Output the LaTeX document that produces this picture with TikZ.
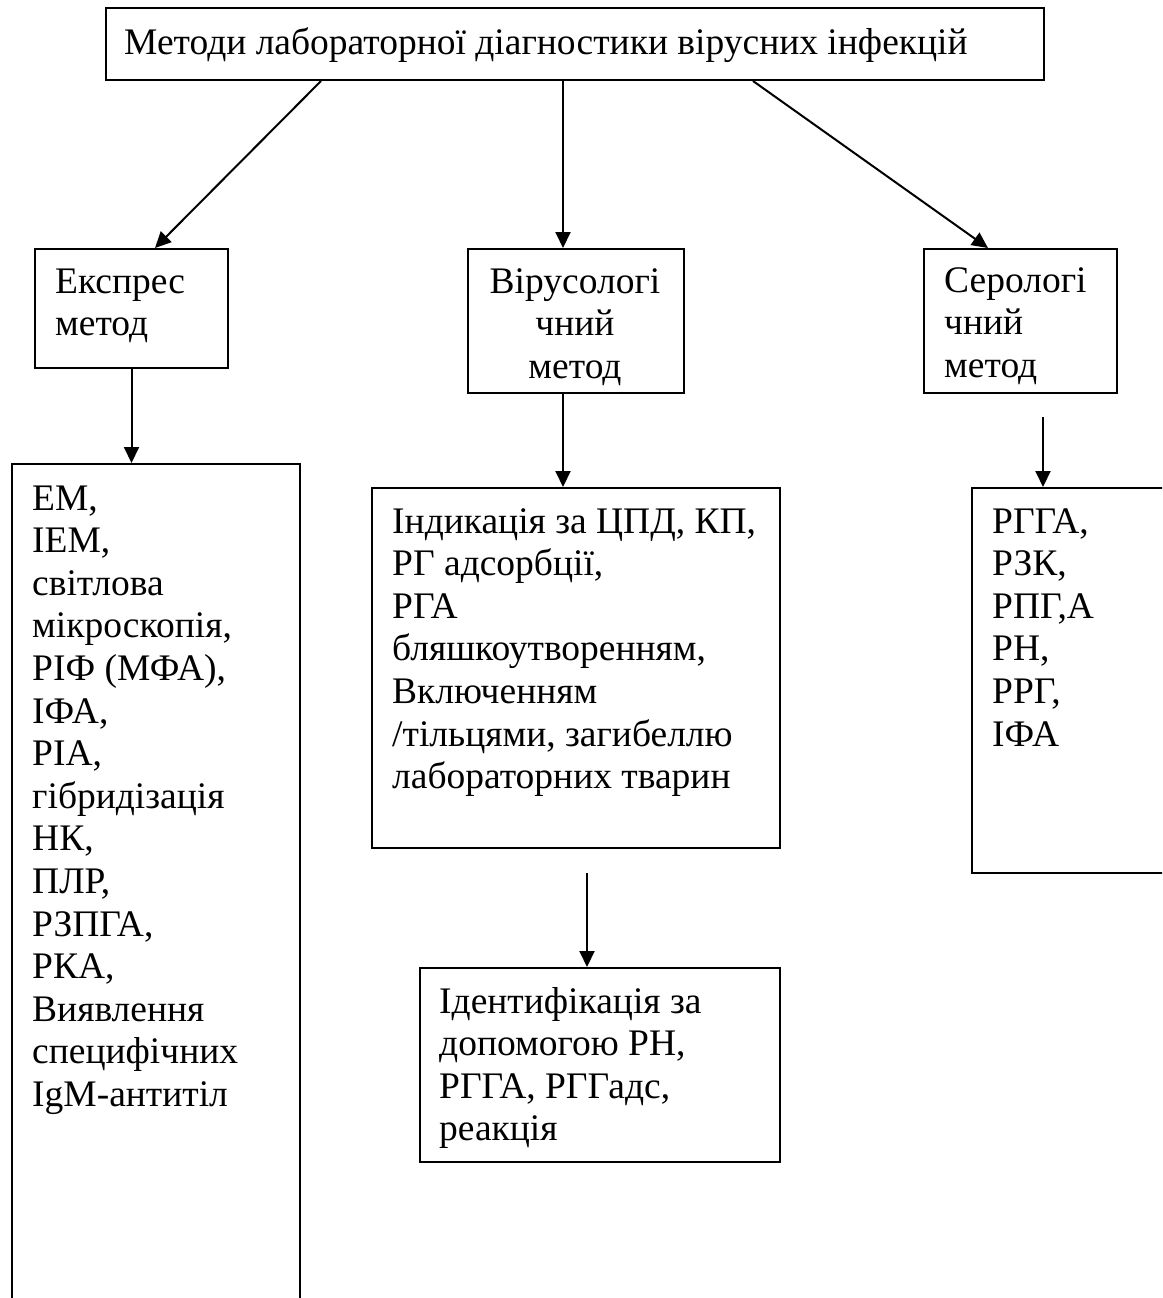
\documentclass[tikz,border=0pt]{standalone}
\usepackage{fontspec}
\setmainfont{Liberation Serif}
\usetikzlibrary{arrows.meta}
\tikzstyle{block} = [draw, rectangle, line width=2pt, inner sep=0pt, anchor=north west]
\tikzstyle{words} = [inner sep=0pt, align=left, anchor=base west, font=\fontsize{37.5}{42.6}\selectfont]
\tikzstyle{link} = [-{Triangle[length=16pt, width=15pt]}, line width=2pt]

\begin{document}
\begin{tikzpicture}[x=1pt, y=-1pt]
    \path [use as bounding box, fill=white] (0,0) rectangle (1162,1298);
    \clip (0,0) rectangle (1162,1298);

    % Boxes.
    \node (title) [block, minimum width=938pt, minimum height=72pt] at (105,7) {};
    \node (express) [block, minimum width=193pt, minimum height=119pt] at (34,248) {};
    \node (virology) [block, minimum width=216pt, minimum height=144pt] at (467,248) {};
    \node (serology) [block, minimum width=193pt, minimum height=144pt] at (923,248) {};
    \node (express list) [block, minimum width=288pt, minimum height=900pt] at (11,463) {};
    \node (virology list) [block, minimum width=408pt, minimum height=360pt] at (371,487) {};
    \node (virology id) [block, minimum width=360pt, minimum height=194pt] at (419,967) {};
    \node (serology list) [block, minimum width=260pt, minimum height=385pt] at (971,487) {};

    % Texts (anchored at the baseline of their last line).
    \node (title text) [words] at ([shift={(19,48)}]title.north west) {Методи лабораторної діагностики вірусних інфекцій};
    \node (express text) [words] at ([shift={(21,45+42.6)}]express.north west) {Експрес\\метод};
    \node (virology text) [words, align=center, anchor=base] at ([shift={(108,45+2*42.6)}]virology.north west) {Вірусологі\\чний\\метод};
    \node (serology text) [words] at ([shift={(21,44+2*42.6)}]serology.north west) {Серологі\\чний\\метод};
    \node (express list text) [words] at ([shift={(21,47+14*42.6)}]express list.north west) {ЕМ,\\ІЕМ,\\світлова\\мікроскопія,\\РІФ (МФА),\\ІФА,\\РІА,\\гібридізація\\НК,\\ПЛР,\\РЗПГА,\\РКА,\\Виявлення\\специфічних\\IgM-антитіл};
    \node (virology list text) [words] at ([shift={(21,46+6*42.6)}]virology list.north west) {Індикація за ЦПД, КП,\\РГ адсорбції,\\РГА\\бляшкоутворенням,\\Включенням\\/тільцями, загибеллю\\лабораторних тварин};
    \node (virology id text) [words] at ([shift={(20,46+3*42.6)}]virology id.north west) {Ідентифікація за\\допомогою РН,\\РГГА, РГГадс,\\реакція};
    \node (serology list text) [words] at ([shift={(21,46+5*42.6)}]serology list.north west) {РГГА,\\РЗК,\\РПГ,А\\РН,\\РРГ,\\ІФА};

    % Arrows.
    \draw [link] ([xshift=216pt]title.south west) -- ([xshift=121pt]express.north west);
    \draw [link] ([xshift=458pt]title.south west) -- ([xshift=96pt]virology.north west);
    \draw [link] ([xshift=648pt]title.south west) -- ([xshift=65pt]serology.north west);
    \draw [link] (express.south) -- (express.south |- express list.north);
    \draw [link] ([xshift=96pt]virology.south west) -- ([xshift=192pt]virology list.north west);
    \draw [link, shorten <=24pt] ([xshift=216pt]virology list.south west) -- ([xshift=168pt]virology id.north west);
    \draw [link, shorten <=23pt] ([xshift=120pt]serology.south west) -- ([xshift=72pt]serology list.north west);
\end{tikzpicture}
\end{document}
